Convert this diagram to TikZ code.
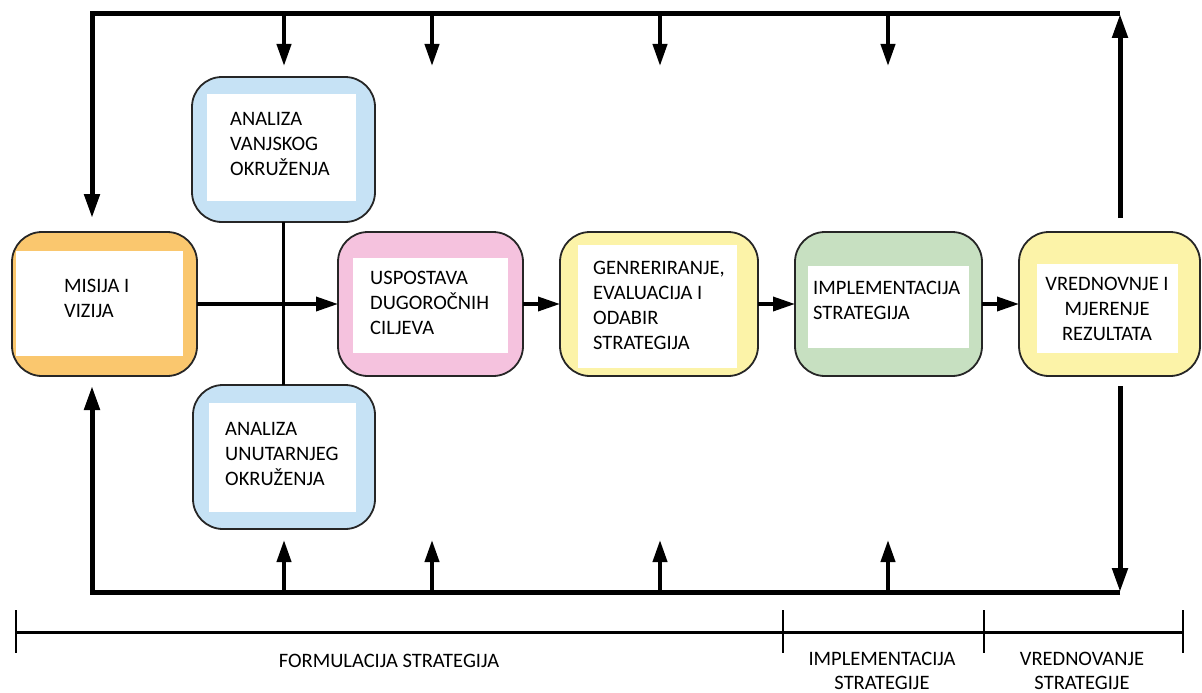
\documentclass[tikz,border=0pt]{standalone}
\usepackage{fontspec}
\setmainfont{Carlito}
\usetikzlibrary{arrows.meta, positioning}
\definecolor{misijaFill}{RGB}{250,199,110}
\definecolor{analizaFill}{RGB}{198,226,245}
\definecolor{ciljFill}{RGB}{245,194,222}
\definecolor{izborFill}{RGB}{252,243,168}
\definecolor{provedbaFill}{RGB}{199,224,193}
\tikzset{
	stage/.style={
		rectangle,
		rounded corners=30pt,
		minimum width=185pt,
		minimum height=144pt,
		outer sep=0pt,
		draw=black!85,
		line width=1.8pt
	},
	pane/.style={
		rectangle,
		fill=white,
		inner sep=0pt
	},
	caption/.style={
		align=left,
		inner sep=0pt,
		font=\fontsize{20.5}{25}\selectfont
	},
	phaselabel/.style={
		align=center,
		inner sep=0pt,
		font=\fontsize{20.5}{24.5}\selectfont
	},
	flow/.style={line width=3.5pt,-{Triangle[length=22pt,width=14pt]}},
	link/.style={line width=3pt},
	feed/.style={line width=4pt,-{Triangle[length=22pt,width=14pt]}},
	backarrow/.style={line width=5pt,-{Triangle[length=24pt,width=15pt]}},
	phaseaxis/.style={line width=3pt},
	phasetick/.style={line width=1.2pt}
}

\begin{document}
\begin{tikzpicture}[x=1pt, y=-1pt, node distance=37pt]
	\useasboundingbox (0,0) rectangle (1202,693);

	\node (misija) [stage, fill=misijaFill] at (104.5,304) {};
	\node (cilj) [stage, fill=ciljFill, right=141pt of misija] {};
	\node (izbor) [stage, fill=izborFill, minimum width=198pt, right=of cilj] {};
	\node (provedba) [stage, fill=provedbaFill, minimum width=187pt, right=of izbor] {};
	\node (vrednovanje) [stage, fill=izborFill, minimum width=181pt, right=of provedba] {};
	\node (vanjsko) [stage, fill=analizaFill, minimum width=183pt, minimum height=145pt] at (283.5,149.5) {};
	\node (unutarnje) [stage, fill=analizaFill, minimum width=182pt] at (284,457) {};

	% white panes inside the boxes
	\node (misijaPane) [pane, minimum width=167pt, minimum height=105pt] at (99.5,303.5) {};
	\node (vanjskoPane) [pane, minimum width=149pt, minimum height=107pt] at (281.5,147.5) {};
	\node (ciljPane) [pane, minimum width=155pt, minimum height=95pt] at (430.5,305.5) {};
	\node (izborPane) [pane, minimum width=159pt, minimum height=123pt] at (657.5,306.5) {};
	\node (provedbaPane) [pane, minimum width=161pt, minimum height=82pt] at (888.5,307) {};
	\node (vrednovanjePane) [pane, minimum width=141pt, minimum height=89pt] at (1107.5,308.5) {};
	\node (unutarnjePane) [pane, minimum width=147pt, minimum height=109pt] at (282.5,457.5) {};

	\node (misijaTxt) [caption, anchor=west] at (64,298.5) {MISIJA I\\VIZIJA};
	\node (vanjskoTxt) [caption, anchor=west] at (230,143.5) {ANALIZA\\VANJSKOG\\OKRUŽENJA};
	\node (ciljTxt) [caption, anchor=west] at (370,302.5) {USPOSTAVA\\DUGOROČNIH\\CILJEVA};
	\node (izborTxt) [caption, anchor=west] at (593,305.5) {GENRERIRANJE,\\EVALUACIJA I\\ODABIR\\STRATEGIJA};
	\node (provedbaTxt) [caption, anchor=west] at (813,300) {IMPLEMENTACIJA\\STRATEGIJA};
	\node (vrednovanjeTxt) [caption, align=center] at (1107,308.5) {VREDNOVNJE I\\MJERENJE\\REZULTATA};
	\node (unutarnjeTxt) [caption, anchor=west] at (225,453.5) {ANALIZA\\UNUTARNJEG\\OKRUŽENJA};

	\draw [flow] (misija) -- (cilj);
	\draw [link] (vanjsko.south) -- (vanjsko.south |- unutarnje.north);
	\draw [flow] (cilj) -- (izbor);
	\draw [flow] (izbor) -- (provedba);
	\draw [flow] (provedba) -- (vrednovanje);

	% feedback frame
	\coordinate (topL) at (92,14);
	\coordinate (topR) at (1120,14);
	\coordinate (botL) at (92,592);
	\coordinate (botR) at (1120,592);
	\draw [backarrow, shorten >=14pt] (topR) -- (topL) -- (topL |- misija.north);
	\draw [backarrow, shorten >=10pt] (botR) -- (botL) -- (botL |- misija.south);
	\draw [backarrow, shorten <=14pt] (topR |- vrednovanje.north) -- (topR);
	\draw [backarrow, shorten <=10pt] (botR |- vrednovanje.south) -- (botR);
	\foreach \x in {284,432,660,888} {
		\coordinate (in\x) at (\x,14);
		\coordinate (up\x) at (\x,592);
		\draw [feed] (in\x) -- ++(0,52);
		\draw [feed] (up\x) -- ++(0,-52);
	}

	% phases
	\coordinate (phase0) at (16,632);
	\coordinate (phase1) at (783,632);
	\coordinate (phase2) at (984,632);
	\coordinate (phase3) at (1183,632);
	\draw [phaseaxis] (phase0) -- (phase3);
	\foreach \p in {0,...,3}
		\draw [phasetick] (phase\p) ++(0,-22) -- ++(0,43);
	\node (formulacija) [phaselabel] at (389,661) {FORMULACIJA STRATEGIJA};
	\node (implementacija) [phaselabel] at (882,671) {IMPLEMENTACIJA\\STRATEGIJE};
	\node (vrednovanjeFaza) [phaselabel] at (1082,671) {VREDNOVANJE\\STRATEGIJE};
\end{tikzpicture}
\end{document}
